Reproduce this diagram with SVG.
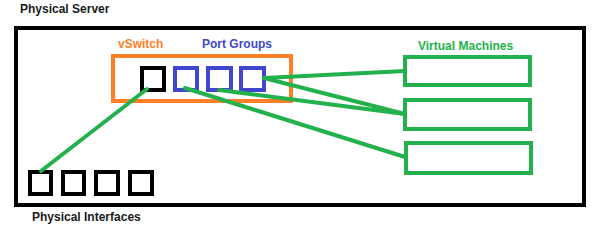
<svg xmlns="http://www.w3.org/2000/svg" width="600" height="227" viewBox="0 0 600 227">
<style>
text{font-family:"Liberation Sans",Arial,sans-serif;font-weight:bold;font-size:12px}
.blk{fill:none;stroke:#000;stroke-width:4}
.blu{fill:none;stroke:#3F48CC;stroke-width:4}
.org{fill:none;stroke:#FF7F27;stroke-width:4}
.vm{fill:none;stroke:#22B14C;stroke-width:4}
.ln{stroke:#22B14C;stroke-width:4;stroke-linecap:round;fill:none}
</style>
<rect width="600" height="227" fill="#fff"/>
<g id="server">
<rect class="blk" x="16" y="28" width="568" height="177"/>
<text x="20" y="13" fill="#1a1a1a">Physical Server</text>
</g>
<g id="vswitch">
<rect class="org" x="113" y="56" width="178" height="45"/>
<text x="118" y="48" fill="#FF7F27">vSwitch</text>
<rect class="blk" x="142" y="68" width="22" height="22"/>
</g>
<g id="portgroups">
<text x="202" y="48" fill="#3F48CC">Port Groups</text>
<rect class="blu" x="175" y="68" width="22" height="22"/>
<rect class="blu" x="208" y="68" width="23" height="22"/>
<rect class="blu" x="241" y="68" width="23" height="22"/>
</g>
<g id="vms">
<text x="418" y="50" fill="#22B14C">Virtual Machines</text>
<rect class="vm" x="405" y="57" width="125" height="28"/>
<rect class="vm" x="405" y="100" width="125" height="29"/>
<rect class="vm" x="406" y="143" width="125" height="30"/>
</g>
<g id="interfaces">
<rect class="blk" x="30" y="172" width="21" height="22"/>
<rect class="blk" x="63" y="172" width="21" height="22"/>
<rect class="blk" x="96" y="172" width="22" height="22"/>
<rect class="blk" x="130" y="172" width="22" height="22"/>
<text x="32" y="221" fill="#1a1a1a">Physical Interfaces</text>
</g>
<g id="connectors">
<line class="ln" x1="147" y1="89" x2="41" y2="171"/>
<line class="ln" x1="185" y1="88" x2="405" y2="157"/>
<line class="ln" x1="219" y1="90" x2="405" y2="114"/>
<line class="ln" x1="264" y1="78" x2="405" y2="71"/>
<line class="ln" x1="264" y1="78" x2="405" y2="114"/>
</g>
</svg>
